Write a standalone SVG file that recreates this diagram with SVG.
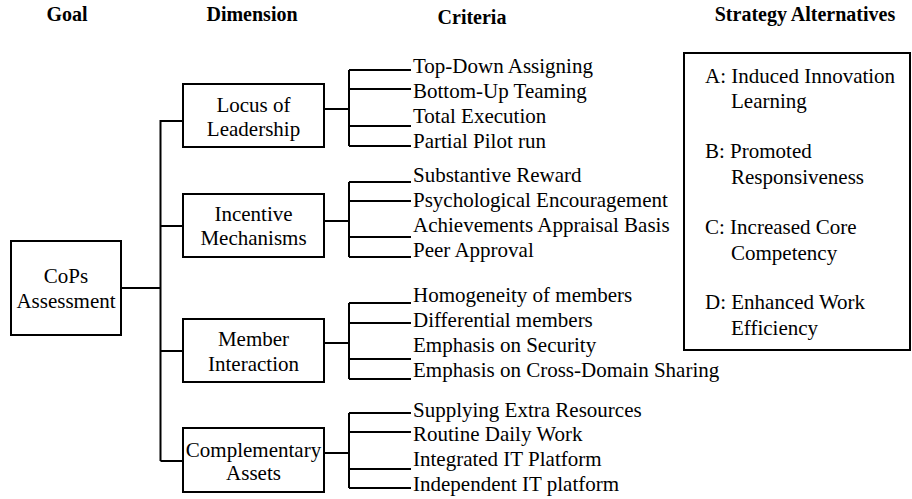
<svg xmlns="http://www.w3.org/2000/svg" width="912" height="499" viewBox="0 0 912 499">
  <style>
    .hdr { font-family: "Liberation Serif", "Times New Roman", serif; font-weight: bold; font-size: 20px; fill: #000; text-anchor: middle; }
    .lbl { font-family: "Liberation Serif", "Times New Roman", serif; font-size: 21px; fill: #000; }
    .mid { text-anchor: middle; }
    .box { fill: #fff; stroke: #000; stroke-width: 2; }
    .wire { fill: none; stroke: #000; stroke-width: 2; }
  </style>
  <rect width="912" height="499" fill="#fff"/>

  <!-- column headings -->
  <g id="headings">
    <text class="hdr" x="67" y="21">Goal</text>
    <text class="hdr" x="252" y="21">Dimension</text>
    <text class="hdr" x="472" y="24">Criteria</text>
    <text class="hdr" x="805" y="21">Strategy Alternatives</text>
  </g>

  <!-- connectors -->
  <g id="connectors" class="wire">
    <!-- goal to dimension trunk -->
    <path d="M121 288H160.5M160.5 120V461M160.5 121H183M160.5 226H183M160.5 351H183M160.5 461H183"/>
    <!-- Locus of Leadership -->
    <path d="M324 109H349M349 70V146M349 70H411M349 89H411M349 126H411M349 146H411"/>
    <!-- Incentive Mechanisms -->
    <path d="M324 221H349M349 182V257M349 182H411M349 201H411M349 237H411M349 257H411"/>
    <!-- Member Interaction -->
    <path d="M324 343H349M349 303V379M349 303H411M349 323H411M349 359H411M349 379H411"/>
    <!-- Complementary Assets -->
    <path d="M324 453H349M349 413V488M349 413H411M349 432H411M349 469H411M349 488H411"/>
  </g>

  <!-- goal -->
  <g id="goal">
    <rect class="box" x="11" y="241" width="110" height="94"/>
    <text class="lbl mid" x="66" y="283">CoPs</text>
    <text class="lbl mid" x="66" y="308">Assessment</text>
  </g>

  <!-- dimensions -->
  <g id="dim-leadership">
    <rect class="box" x="183" y="84" width="141" height="63"/>
    <text class="lbl mid" x="253.5" y="112">Locus of</text>
    <text class="lbl mid" x="253.5" y="136">Leadership</text>
  </g>
  <g id="dim-incentive">
    <rect class="box" x="183" y="194" width="141" height="63"/>
    <text class="lbl mid" x="253.5" y="221">Incentive</text>
    <text class="lbl mid" x="253.5" y="245">Mechanisms</text>
  </g>
  <g id="dim-interaction">
    <rect class="box" x="183" y="319" width="141" height="63"/>
    <text class="lbl mid" x="253.5" y="346">Member</text>
    <text class="lbl mid" x="253.5" y="371">Interaction</text>
  </g>
  <g id="dim-assets">
    <rect class="box" x="183" y="428" width="141" height="64"/>
    <text class="lbl mid" x="253.5" y="457">Complementary</text>
    <text class="lbl mid" x="253.5" y="480">Assets</text>
  </g>

  <!-- criteria -->
  <g id="crit-leadership" class="lbl">
    <text x="413" y="73">Top-Down Assigning</text>
    <text x="413" y="98">Bottom-Up Teaming</text>
    <text x="413" y="123">Total Execution</text>
    <text x="413" y="148">Partial Pilot run</text>
  </g>
  <g id="crit-incentive" class="lbl">
    <text x="413" y="182">Substantive Reward</text>
    <text x="413" y="207">Psychological Encouragement</text>
    <text x="413" y="232">Achievements Appraisal Basis</text>
    <text x="413" y="257">Peer Approval</text>
  </g>
  <g id="crit-interaction" class="lbl">
    <text x="413" y="302">Homogeneity of members</text>
    <text x="413" y="327">Differential members</text>
    <text x="413" y="352">Emphasis on Security</text>
    <text x="413" y="377">Emphasis on Cross-Domain Sharing</text>
  </g>
  <g id="crit-assets" class="lbl">
    <text x="413" y="417">Supplying Extra Resources</text>
    <text x="413" y="441">Routine Daily Work</text>
    <text x="413" y="466">Integrated IT Platform</text>
    <text x="413" y="491">Independent IT platform</text>
  </g>

  <!-- strategy alternatives -->
  <g id="alternatives">
    <rect class="box" x="684" y="53" width="226" height="297"/>
    <g class="lbl">
      <text x="705" y="83">A: Induced Innovation</text>
      <text x="731" y="108">Learning</text>
      <text x="705" y="158">B: Promoted</text>
      <text x="731" y="184">Responsiveness</text>
      <text x="705" y="234">C: Increased Core</text>
      <text x="731" y="260">Competency</text>
      <text x="705" y="309">D: Enhanced Work</text>
      <text x="731" y="335">Efficiency</text>
    </g>
  </g>
</svg>
